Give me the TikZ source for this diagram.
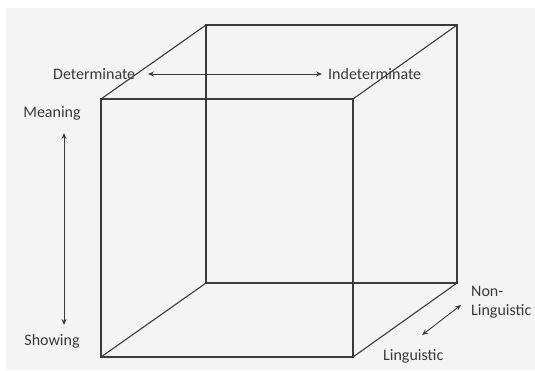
\documentclass[tikz,border=0pt]{standalone}
\usepackage{fontspec}
\setmainfont{Carlito}
\usetikzlibrary{arrows.meta}
\definecolor{bggray}{HTML}{F4F4F4}
\definecolor{edge}{HTML}{3A3A3A}
\definecolor{txt}{HTML}{3A3A3A}
\tikzset{
  cubeedge/.style={draw=edge, line width=1.1pt},
  dimarrow/.style={draw=edge, line width=0.9pt, {Stealth[length=6pt,width=5pt]}-{Stealth[length=6pt,width=5pt]}},
  lbl/.style={text=txt, font=\fontsize{16}{19}\selectfont, inner sep=0pt}
}
\begin{document}
\begin{tikzpicture}[x=1pt,y=-1pt]
\useasboundingbox (0,0) rectangle (535,370);
\fill[bggray] (6,8) rectangle (535,370);
% front face
\coordinate (fa) at (101,99);
\coordinate (fb) at (353,99);
\coordinate (fc) at (353,357);
\coordinate (fd) at (101,357);
% back face
\coordinate (ba) at (206,25);
\coordinate (bb) at (457,25);
\coordinate (bc) at (457,283);
\coordinate (bd) at (206,283);
\draw[cubeedge] (ba) -- (bb) -- (bc) -- (bd) -- cycle;
\draw[cubeedge] (fa) -- (fb) -- (fc) -- (fd) -- cycle;
\draw[cubeedge] (fa) -- (ba);
\draw[cubeedge] (fb) -- (bb);
\draw[cubeedge] (fc) -- (bc);
\draw[cubeedge] (fd) -- (bd);
% labels
\node[lbl, anchor=west] (det) at (53,74) {Determinate};
\node[lbl, anchor=west] (ind) at (328,74) {Indeterminate};
\coordinate (detR) at (148,74);
\coordinate (indL) at (322,74);
\draw[dimarrow] (detR) -- (indL);
\node[lbl] (mea) at (52,113) {Meaning};
\node[lbl] (sho) at (52,341) {Showing};
\coordinate (meaB) at (64,133);
\coordinate (shoT) at (64,325);
\draw[dimarrow] (meaB) -- (shoT);
\node[lbl, anchor=west, align=left] (non) at (471,302) {Non-\\Linguistic};
\node[lbl, anchor=west] (lin) at (383,356) {Linguistic};
\coordinate (linE) at (422,335);
\coordinate (nonE) at (461,305);
\draw[dimarrow] (linE) -- (nonE);
\end{tikzpicture}
\end{document}
